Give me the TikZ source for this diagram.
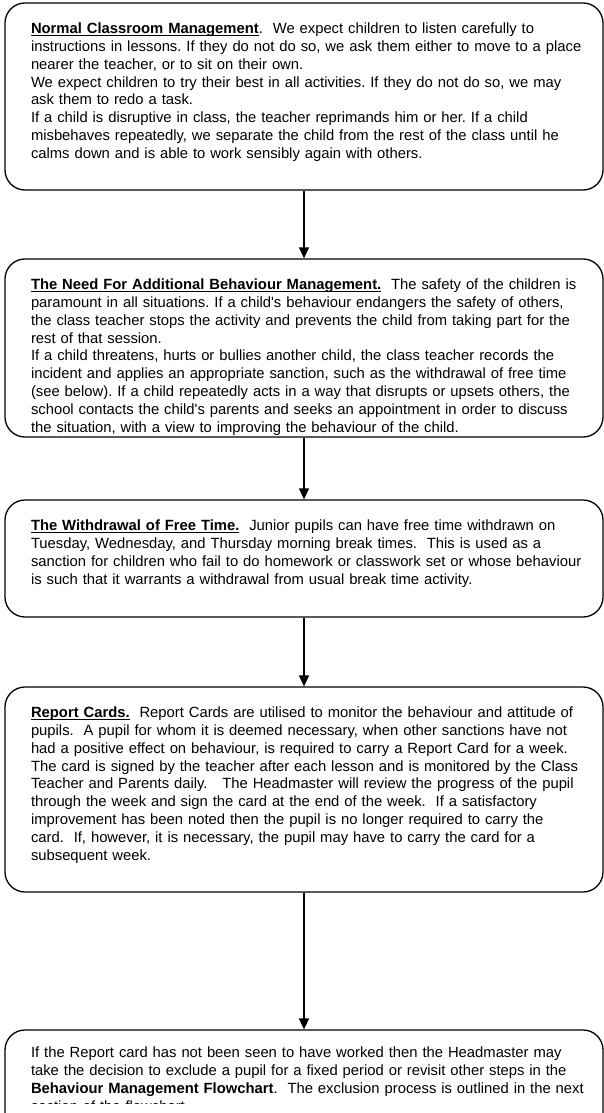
\documentclass[tikz,border=0pt]{standalone}
\usepackage{fontspec}
\setmainfont{Liberation Sans}
\usetikzlibrary{arrows.meta, positioning}

% bold heading with a close underline
\newsavebox\headbox
\newcommand{\uhead}[1]{\sbox\headbox{\textbf{#1}}%
    \rlap{\rule[-2.6pt]{\wd\headbox}{1.2pt}}\usebox\headbox}

\begin{document}
\begin{tikzpicture}[
    x=1pt, y=1pt,
    line width=1.3pt,
    >={Triangle[width=10pt,length=11pt]},
    flowbox/.style={draw, rounded corners=20pt, minimum width=598pt, inner sep=0pt},
    flowtext/.style={text width=570pt, align=left, inner sep=0pt,
        font=\fontsize{14.8}{17.8}\selectfont\frenchspacing}
]
\useasboundingbox (0,0) rectangle (604,-1113);
\clip (0,0) rectangle (604,-1113);

% Boxes placed manually, top to bottom
\node[flowbox, minimum height=187pt] (normal) at (304,-96.5) {};
\node[flowbox, minimum height=178pt] (need) at (304,-348) {};
\node[flowbox, minimum height=117pt] (withdraw) at (304,-558.5) {};
\node[flowbox, minimum height=205pt] (report) at (304,-789.5) {};
\node[flowbox, minimum height=130pt] (exclude) at (304,-1095) {};

% Texts inside the boxes
\node[flowtext, below right=20pt and 26pt of normal.north west] (normaltext) {%
\uhead{Normal Classroom Management}.~ We expect children to listen carefully to\\
instructions in lessons. If they do not do so, we ask them either to move to a place\\
nearer the teacher, or to sit on their own.\\
We expect children to try their best in all activities. If they do not do so, we may\\
ask them to redo a task.\\
If a child is disruptive in class, the teacher reprimands him or her. If a child\\
misbehaves repeatedly, we separate the child from the rest of the class until he\\
calms down and is able to work sensibly again with others.};

\node[flowtext, below right=20pt and 26pt of need.north west] (needtext) {%
\uhead{The Need For Additional Behaviour Management.}~ The safety of the children is\\
paramount in all situations. If a child\textquotesingle s behaviour endangers the safety of others,\\
the class teacher stops the activity and prevents the child from taking part for the\\
rest of that session.\\
If a child threatens, hurts or bullies another child, the class teacher records the\\
incident and applies an appropriate sanction, such as the withdrawal of free time\\
(see below). If a child repeatedly acts in a way that disrupts or upsets others, the\\
school contacts the child\textquotesingle s parents and seeks an appointment in order to discuss\\
the situation, with a view to improving the behaviour of the child.};

\node[flowtext, below right=20pt and 26pt of withdraw.north west] (withdrawtext) {%
\uhead{The Withdrawal of Free Time.}~ Junior pupils can have free time withdrawn on\\
Tuesday, Wednesday, and Thursday morning break times.~ This is used as a\\
sanction for children who fail to do homework or classwork set or whose behaviour\\
is such that it warrants a withdrawal from usual break time activity.};

\node[flowtext, below right=20pt and 26pt of report.north west] (reporttext) {%
\uhead{Report Cards.}~ Report Cards are utilised to monitor the behaviour and attitude of\\
pupils.~ A pupil for whom it is deemed necessary, when other sanctions have not\\
had a positive effect on behaviour, is required to carry a Report Card for a week.\\
The card is signed by the teacher after each lesson and is monitored by the Class\\
Teacher and Parents daily.~~ The Headmaster will review the progress of the pupil\\
through the week and sign the card at the end of the week.~ If a satisfactory\\
improvement has been noted then the pupil is no longer required to carry the\\
card.~ If, however, it is necessary, the pupil may have to carry the card for a\\
subsequent week.};

% last text is cut off by its frame
\begin{scope}
\clip (0,-1030) rectangle (604,-1103);
\node[flowtext, below right=17pt and 26pt of exclude.north west] (excludetext) {%
If the Report card has not been seen to have worked then the Headmaster may\\
take the decision to exclude a pupil for a fixed period or revisit other steps in the\\
\textbf{Behaviour Management Flowchart}.~ The exclusion process is outlined in the next\\
section of the flowchart.};
\end{scope}

% Arrows
\draw[->] (normal) -- (need);
\draw[->] (need) -- (withdraw);
\draw[->] (withdraw) -- (report);
\draw[->] (report) -- (exclude);
\end{tikzpicture}
\end{document}
